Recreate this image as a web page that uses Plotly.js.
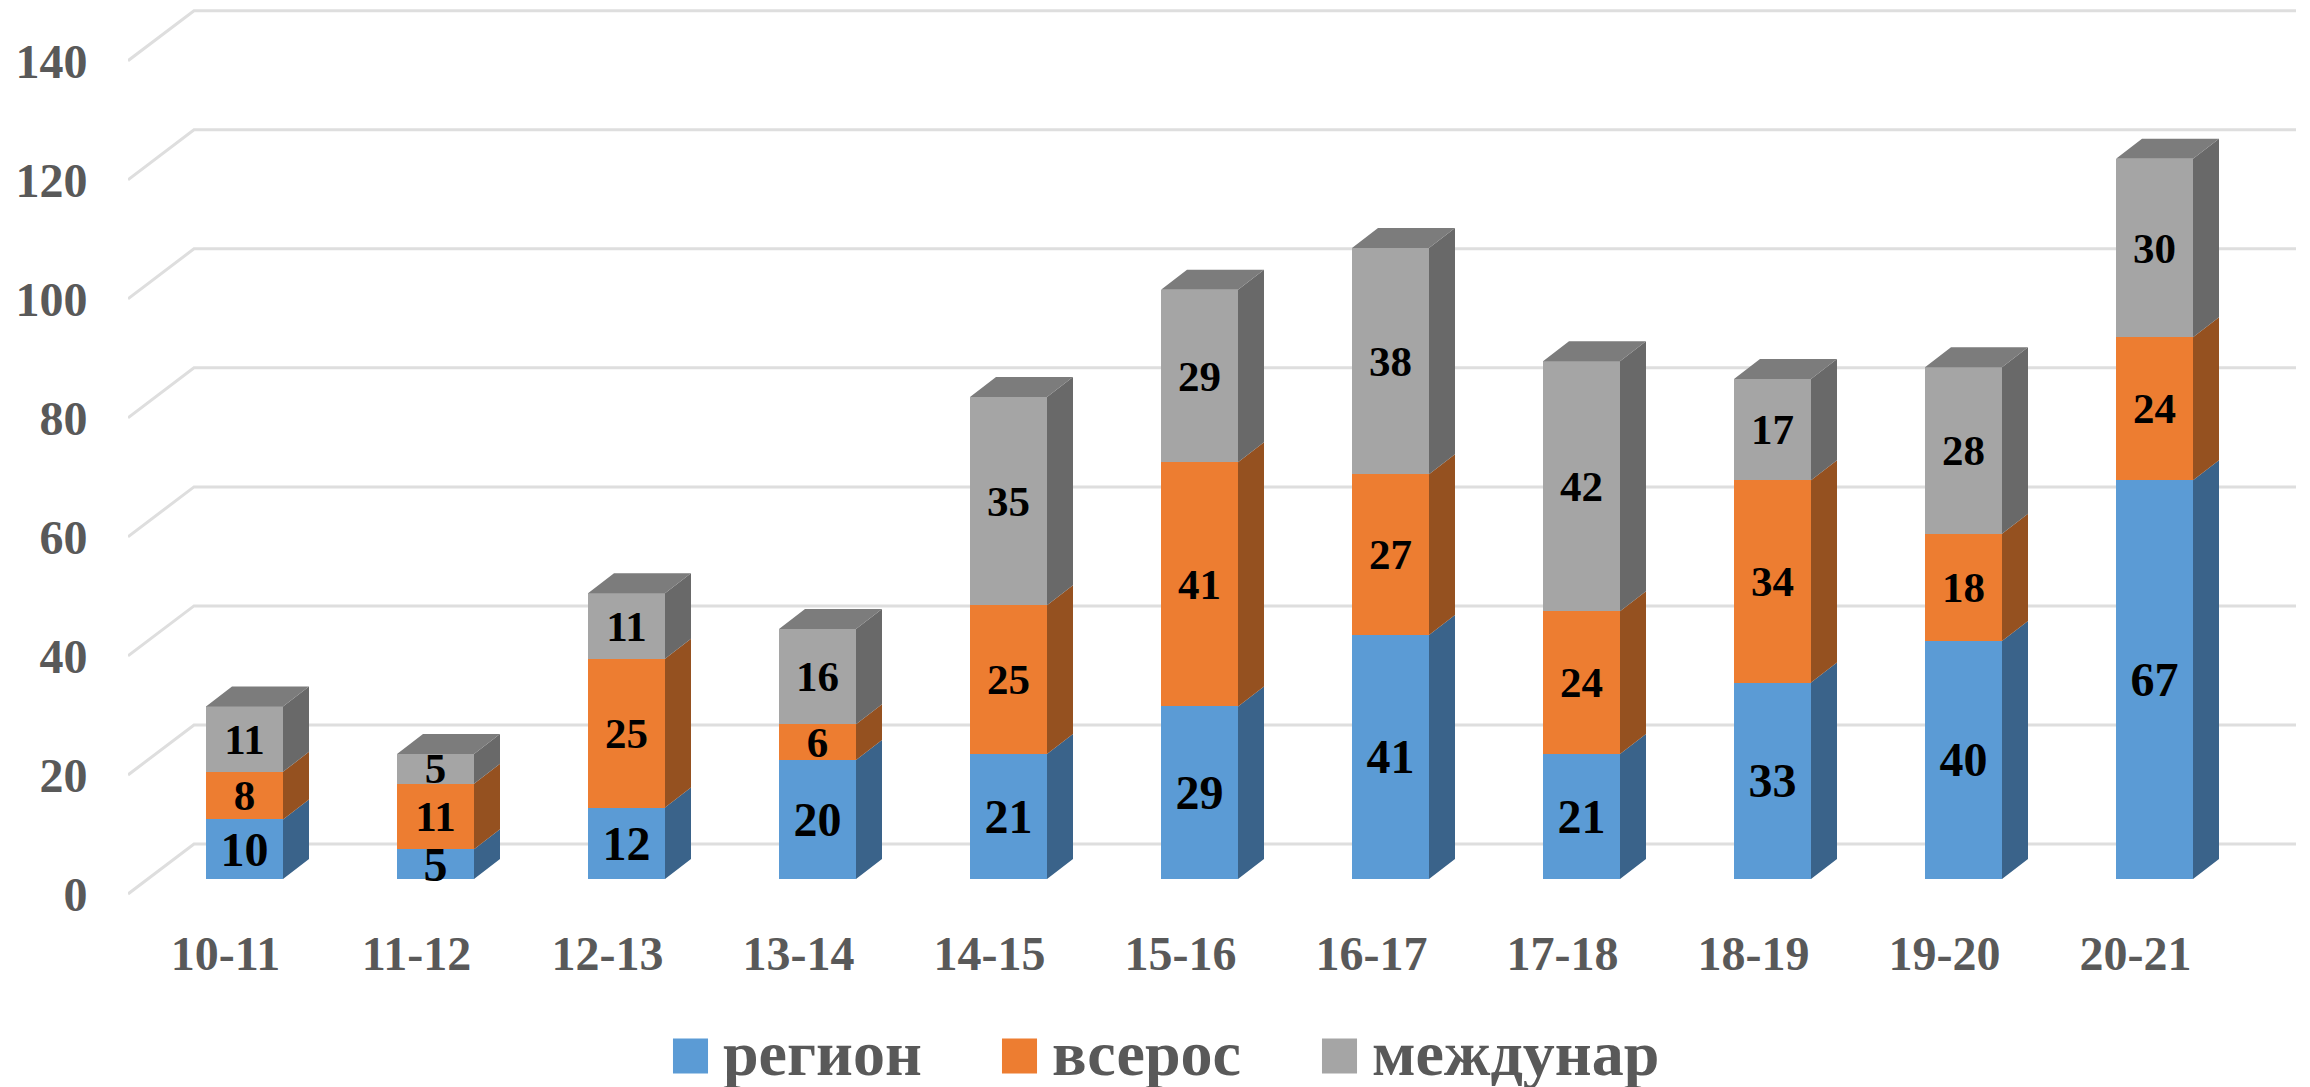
<!DOCTYPE html>
<html><head><meta charset="utf-8">
<script src="https://cdn.plot.ly/plotly-3.0.1.min.js"></script>
<style>html,body{margin:0;padding:0;background:#fff}</style></head>
<body><div id="chart" style="width:2310px;height:1087px"></div>
<script>
const categories = ['10-11','11-12','12-13','13-14','14-15','15-16','16-17','17-18','18-19','19-20','20-21'];
const region = [10,5,12,20,21,29,41,21,33,40,67];
const vseros = [8,11,25,6,25,41,27,24,34,18,24];
const mezhdunar = [11,5,11,16,35,29,38,42,17,28,30];
const yTicks = [0,20,40,60,80,100,120,140];

// pixel geometry of the pseudo-3D projection
const W=2310,H=1087,L=128,R=2296,B=900;
const pxPerCat=191, pxPerUnit=5.952;
const labelC0=225.5, barC0=244.5, barW=77;
const y0Wall=894, y0Bar=879, y0Back=844, xBack=194;
const depthX=26/pxPerCat, depthY=20/pxPerUnit, hw=barW/pxPerCat/2;
const idx = categories.map((_,i)=>i);

function bands(){
  const base = region.map(()=>0), out=[];
  [region,vseros,mezhdunar].forEach(s=>{
    out.push({lo:base.slice(), hi:base.map((b,i)=>b+s[i])});
    s.forEach((v,i)=>base[i]+=v);
  });
  return out;
}
const st = bands();
function sideFace(b){
  const x=[],y=[];
  idx.forEach(i=>{
    const a=i+hw,c=a+depthX;
    x.push(a,c,c,a,a,null); y.push(b.lo[i],b.lo[i]+depthY,b.hi[i]+depthY,b.hi[i],b.lo[i],null);
  });
  return {x,y};
}
function topFace(b){
  const x=[],y=[];
  idx.forEach(i=>{
    const T=b.hi[i];
    x.push(i-hw,i+hw,i+hw+depthX,i-hw+depthX,i-hw,null); y.push(T,T,T+depthY,T+depthY,T,null);
  });
  return {x,y};
}
function poly(p,color){
  return Object.assign({type:'scatter',mode:'lines',fill:'toself',fillcolor:color,line:{width:0,color:color},
    xaxis:'x2',yaxis:'y2',showlegend:false,hoverinfo:'skip'},p);
}
// grid: floor diagonal + back wall line, in the label axes' coordinates
const gx=[],gy=[];
const toX=p=>(p-labelC0)/pxPerCat;
const backRise=(y0Wall-y0Back)/pxPerUnit;
yTicks.forEach(v=>{gx.push(toX(L),toX(xBack),toX(R),null);gy.push(v,v+backRise,v+backRise,null);});
const grid={type:'scatter',mode:'lines',x:gx,y:gy,line:{color:'#DEDEDE',width:3},showlegend:false,hoverinfo:'skip',xaxis:'x',yaxis:'y',cliponaxis:false};

function bar(name,vals,color,size,legendW){
  const t={type:'bar',name:name,x:idx,y:vals,text:vals.map(String),width:barW/pxPerCat,xaxis:'x2',yaxis:'y2',
    marker:{color:color,line:{width:0}},textposition:'inside',insidetextanchor:'middle',textangle:0,constraintext:'none',
    insidetextfont:{family:'Liberation Serif',size:size,color:'#000',weight:'bold'},hoverinfo:'skip'};
  if(legendW) t.legendwidth=legendW;
  return t;
}
const traces=[grid,
  bar('регион',region,'#5B9BD5',48,259),
  bar('всерос',vseros,'#ED7D31',43,250),
  bar('междунар',mezhdunar,'#A5A5A5',43,0),
  poly(sideFace(st[0]),'#3A638A'),
  poly(sideFace(st[1]),'#955120'),
  poly(sideFace(st[2]),'#696969'),
  poly(topFace(st[2]),'#7C7C7C')
];
const tickFont={family:'Liberation Serif',size:48,color:'#595959',weight:'bold'};
const layout={
  width:W,height:H,margin:{l:L,r:W-R,t:0,b:H-B},paper_bgcolor:'#fff',plot_bgcolor:'rgba(0,0,0,0)',barmode:'stack',
  xaxis:{type:'linear',range:[toX(L),toX(R)],tickvals:idx,ticktext:categories,tickfont:tickFont,showgrid:false,zeroline:false,showline:false,ticks:'outside',ticklen:11,tickcolor:'rgba(0,0,0,0)'},
  yaxis:{type:'linear',range:[(y0Wall-B)/pxPerUnit,y0Wall/pxPerUnit],tickvals:yTicks,tickfont:tickFont,showgrid:false,zeroline:false,showline:false,ticks:'outside',ticklen:30,tickcolor:'rgba(0,0,0,0)'},
  xaxis2:{type:'linear',overlaying:'x',anchor:'y2',range:[(L-barC0)/pxPerCat,(R-barC0)/pxPerCat],visible:false},
  yaxis2:{type:'linear',overlaying:'y',anchor:'x2',range:[(y0Bar-B)/pxPerUnit,y0Bar/pxPerUnit],visible:false},
  showlegend:true,
  legend:{orientation:'h',xref:'container',yref:'container',x:658/W,y:1-1002/H,xanchor:'left',yanchor:'top',traceorder:'normal',
    itemwidth:55,
    font:{family:'Liberation Serif',size:64,color:'#595959',weight:'bold'},itemclick:false,itemdoubleclick:false}
};
Plotly.newPlot('chart',traces,layout,{staticPlot:true,displayModeBar:false}).then(gd=>{
  gd.querySelectorAll('.legendpoints path').forEach(p=>{
    const t=p.getAttribute('transform')||''; p.setAttribute('transform',t+' translate(0,6) scale(2.92)');
  });
});
</script></body></html>
